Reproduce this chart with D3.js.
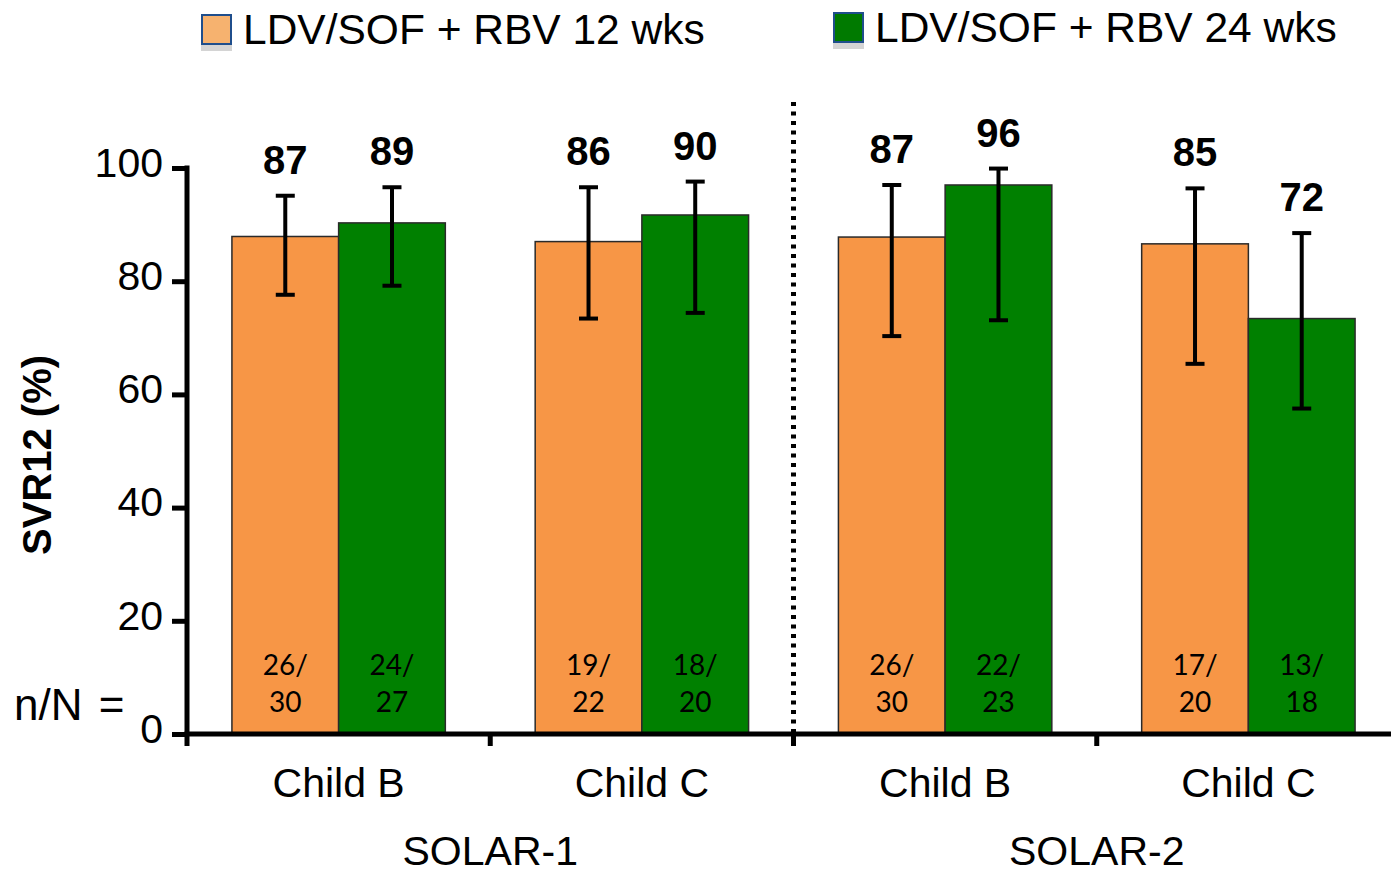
<!DOCTYPE html>
<meta charset="utf-8">
<style>
	body {
		margin: 0;
		background: #fff;
	}

	svg text {
		font-family: "Liberation Sans", Arial, sans-serif;
		fill: #000;
	}

	.axis text {
		font-size: 41px;
	}

	.axis path,
	.axis line {
		fill: none;
		stroke: #000;
		stroke-width: 5;
	}

	.value {
		font-size: 40px;
		font-weight: bold;
	}

	.nn {
		font-family: Lato, "Open Sans", sans-serif !important;
		font-size: 28px;
	}
</style>

<body>
	<script src="https://cdn.jsdelivr.net/npm/d3@7"></script>
	<script>
		// data
		var series = ["LDV/SOF + RBV 12 wks", "LDV/SOF + RBV 24 wks"];
		var categories = ["Child B", "Child C", "Child B", "Child C"];
		var studies = ["SOLAR-1", "SOLAR-2"];

		var svr12wk = [87.9, 87.0, 87.8, 86.6];
		var svr24wk = [90.3, 91.7, 97.0, 73.4];
		var lo12wk = [77.6, 73.4, 70.3, 65.4];
		var hi12wk = [95.1, 96.6, 97.0, 96.4];
		var lo24wk = [79.2, 74.4, 73.1, 57.5];
		var hi24wk = [96.6, 97.6, 99.9, 88.5];
		var label12wk = ["87", "86", "87", "85"];
		var label24wk = ["89", "90", "96", "72"];
		var n12wk = ["26/", "19/", "26/", "17/"];
		var N12wk = ["30", "22", "30", "20"];
		var n24wk = ["24/", "18/", "22/", "13/"];
		var N24wk = ["27", "20", "23", "18"];
		var yTicks = [0, 20, 40, 60, 80, 100];

		var colors = ["#F79646", "#008000"];
		var legendColors = ["#F6B26F", "#007A00"];

		var margin = {
				top: 168,
				left: 187
			},
			width = 1213,
			height = 566;

		var svg = d3.select("body").append("svg")
			.attr("width", 1391)
			.attr("height", 875);

		var g = svg.append("g")
			.attr("transform", "translate(" + margin.left + "," + margin.top + ")");

		var x = d3.scaleBand()
			.domain(d3.range(categories.length))
			.range([0, width]);

		var barW = 106.7;
		var x1 = d3.scaleBand()
			.domain([0, 1])
			.range([x.bandwidth() / 2 - barW, x.bandwidth() / 2 + barW]);

		var y = d3.scaleLinear()
			.domain([0, 100])
			.range([height, 0]);

		var rows = categories.map(function(c, i) {
			return [
				{ i: i, s: 0, v: svr12wk[i], lo: lo12wk[i], hi: hi12wk[i], lab: label12wk[i], n: n12wk[i], N: N12wk[i] },
				{ i: i, s: 1, v: svr24wk[i], lo: lo24wk[i], hi: hi24wk[i], lab: label24wk[i], n: n24wk[i], N: N24wk[i] }
			];
		});
		var flat = d3.merge(rows);

		// bars
		g.selectAll(".bar")
			.data(flat)
			.enter().append("rect")
			.attr("class", "bar")
			.attr("x", function(d) { return x(d.i) + x1(d.s); })
			.attr("y", function(d) { return y(d.v); })
			.attr("width", x1.bandwidth())
			.attr("height", function(d) { return y(0) - y(d.v); })
			.style("fill", function(d) { return colors[d.s]; })
			.style("stroke", "#2a2a2a")
			.style("stroke-width", 1.5);

		// error bars
		var err = g.selectAll(".err")
			.data(flat)
			.enter().append("g")
			.attr("class", "err")
			.attr("transform", function(d) {
				return "translate(" + (x(d.i) + x1(d.s) + x1.bandwidth() / 2) + ",0)";
			})
			.style("stroke", "#000")
			.style("stroke-width", 4);
		err.append("line")
			.attr("y1", function(d) { return y(d.lo); })
			.attr("y2", function(d) { return y(d.hi); });
		err.append("line")
			.attr("x1", -9.5).attr("x2", 9.5)
			.attr("y1", function(d) { return y(d.lo); })
			.attr("y2", function(d) { return y(d.lo); });
		err.append("line")
			.attr("x1", -9.5).attr("x2", 9.5)
			.attr("y1", function(d) { return y(d.hi); })
			.attr("y2", function(d) { return y(d.hi); });

		// percentage labels
		g.selectAll(".value")
			.data(flat)
			.enter().append("text")
			.attr("class", "value")
			.attr("x", function(d) { return x(d.i) + x1(d.s) + x1.bandwidth() / 2; })
			.attr("y", function(d) { return y(d.hi) - 22; })
			.attr("text-anchor", "middle")
			.text(function(d) { return d.lab; });

		// n/N inside bars
		var nn = g.selectAll(".nn")
			.data(flat)
			.enter().append("text")
			.attr("class", "nn")
			.attr("text-anchor", "middle")
			.attr("x", function(d) { return x(d.i) + x1(d.s) + x1.bandwidth() / 2; });
		nn.append("tspan")
			.attr("x", function(d) { return x(d.i) + x1(d.s) + x1.bandwidth() / 2; })
			.attr("y", height - 59)
			.text(function(d) { return d.n; });
		nn.append("tspan")
			.attr("x", function(d) { return x(d.i) + x1(d.s) + x1.bandwidth() / 2; })
			.attr("y", height - 22)
			.text(function(d) { return d.N; });

		// y axis
		var yAxis = g.append("g")
			.attr("class", "y axis")
			.call(d3.axisLeft(y).tickValues(yTicks).tickSize(15).tickSizeOuter(0).tickPadding(9));
		yAxis.select(".domain").remove();
		yAxis.selectAll("text").attr("dy", "0.2em");
		yAxis.append("line")
			.attr("y1", y(100) - 2.5)
			.attr("y2", height + 12);

		// x axis
		var xAxis = g.append("g")
			.attr("class", "x axis")
			.attr("transform", "translate(0," + height + ")")
			.call(d3.axisBottom(x).tickSize(0).tickPadding(34)
				.tickFormat(function(i) { return categories[i]; }));
		xAxis.select(".domain").remove();
		xAxis.append("line")
			.attr("x1", -2.5)
			.attr("x2", width);
		xAxis.selectAll(".sep")
			.data([1, 2, 3])
			.enter().append("line")
			.attr("class", "sep")
			.attr("x1", function(i) { return x(i); })
			.attr("x2", function(i) { return x(i); })
			.attr("y1", 0)
			.attr("y2", 12);

		// study labels
		g.selectAll(".study")
			.data(studies)
			.enter().append("text")
			.attr("class", "study")
			.attr("x", function(d, k) { return x(2 * k + 1); })
			.attr("y", height + 131)
			.attr("text-anchor", "middle")
			.style("font-size", "41px")
			.text(function(d) { return d; });

		// dotted divider between studies
		g.append("line")
			.attr("x1", x(2))
			.attr("x2", x(2))
			.attr("y1", -66)
			.attr("y2", height + 12)
			.style("stroke", "#000")
			.style("stroke-width", 5)
			.style("stroke-dasharray", "4,5.5");

		// y title
		svg.append("text")
			.attr("transform", "translate(51,455) rotate(-90)")
			.attr("text-anchor", "middle")
			.style("font-size", "40px")
			.style("font-weight", "bold")
			.text("SVR12 (%)");

		svg.append("text")
			.attr("x", 14)
			.attr("y", 720)
			.style("font-size", "44px")
			.style("word-spacing", "4px")
			.text("n/N =");

		// legend
		var legend = svg.selectAll(".legend")
			.data(series)
			.enter().append("g")
			.attr("class", "legend")
			.attr("transform", function(d, i) {
				return "translate(" + (i === 0 ? 201 : 833) + "," + (i === 0 ? 14 : 12) + ")";
			});
		legend.append("rect")
			.attr("y", 31)
			.attr("width", 31)
			.attr("height", 6)
			.style("fill", "#d4d4d4");
		legend.append("rect")
			.attr("x", 1)
			.attr("y", 1)
			.attr("width", 29)
			.attr("height", 29)
			.style("fill", function(d, i) { return legendColors[i]; })
			.style("stroke", "#1F4E8C")
			.style("stroke-width", 2);
		legend.append("text")
			.attr("x", 42)
			.attr("y", 30)
			.style("font-size", "42.5px")
			.text(function(d) { return d; });
	</script>
</body>
